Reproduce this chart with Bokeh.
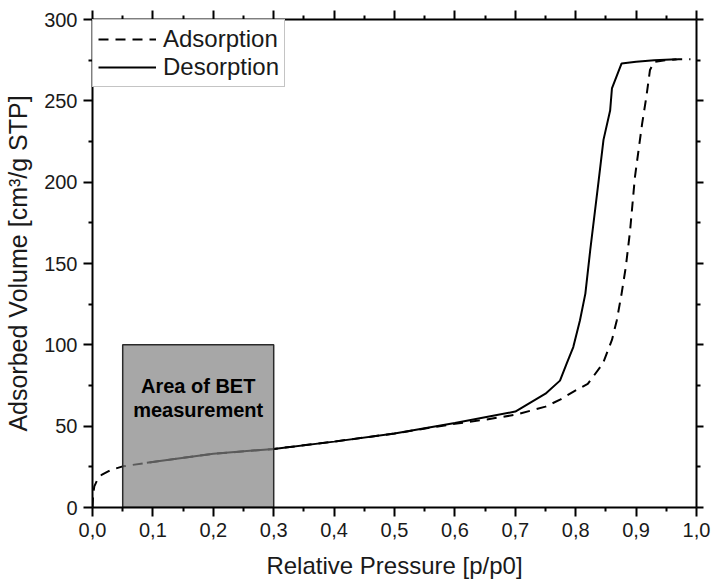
from bokeh.plotting import figure
from bokeh.models import LinearAxis, FixedTicker, CustomJSTickFormatter, Legend, LegendItem
from bokeh.core.properties import value
from bokeh.embed import file_html
from bokeh.resources import INLINE

# ---- data ----
ads_p = [0.0, 0.001, 0.003, 0.008, 0.015, 0.03, 0.05, 0.1, 0.2, 0.3, 0.4, 0.5, 0.6, 0.65,
         0.7, 0.75, 0.775, 0.8, 0.82, 0.845, 0.86, 0.868, 0.876, 0.883, 0.89, 0.898, 0.91,
         0.917, 0.923, 0.93, 0.95, 0.97, 0.99]
ads_v = [0, 8, 13, 17, 20, 23, 25.3, 28, 33, 36, 40.5, 45.5, 51.5, 54,
         57, 62, 66.5, 72, 76, 88.5, 103, 115, 131.5, 148, 170, 203, 236,
         252.5, 269, 274, 275, 275.5, 275.5]

des_p = [0.967, 0.93, 0.9, 0.876, 0.86, 0.857, 0.846, 0.838, 0.824, 0.816, 0.807, 0.796,
         0.785, 0.774, 0.75, 0.7, 0.65, 0.6, 0.5, 0.4, 0.3, 0.2, 0.09]
des_v = [275.5, 275, 274, 273, 257.6, 244, 226, 201, 158, 131.5, 115, 98.6,
         88.5, 78, 70, 59, 55.5, 52, 45.5, 40.5, 36, 33, 27.5]

bet_range = [0.05, 0.3]
bet_top = 100
bet_lines = ["Area of BET", "measurement"]

x_ticks = [0.0, 0.1, 0.2, 0.3, 0.4, 0.5, 0.6, 0.7, 0.8, 0.9, 1.0]
x_minor = [0.05, 0.15, 0.25, 0.35, 0.45, 0.55, 0.65, 0.75, 0.85, 0.95]
y_ticks = [0, 50, 100, 150, 200, 250, 300]
y_minor = [25, 75, 125, 175, 225, 275]

FONT = "Liberation Sans"
TXT = "#1a1a1a"

p = figure(width=712, height=585, x_range=(0, 1.0), y_range=(0, 300),
           output_backend="svg", toolbar_location=None,
           min_border_left=92, min_border_top=19, min_border_right=16, min_border_bottom=78)
p.xgrid.visible = False
p.ygrid.visible = False
p.outline_line_color = None
p.background_fill_color = "white"

ads = p.line(ads_p, ads_v, line_color="black", line_width=2, line_dash="10 7")
des = p.line(des_p, des_v, line_color="black", line_width=2)

p.quad(left=[bet_range[0]], right=[bet_range[1]], bottom=[0], top=[bet_top],
       fill_color="#818181", fill_alpha=0.7, line_color="#2a2a2a", line_width=1.5)

cx = (bet_range[0] + bet_range[1]) / 2
p.text(x=[cx, cx], y=[74.5, 59.7], text=bet_lines, text_font=value(FONT),
       text_font_style="bold", text_font_size=value("20px"), text_color="black",
       text_align="center", text_baseline="middle")

xt = FixedTicker(ticks=x_ticks, minor_ticks=x_minor)
yt = FixedTicker(ticks=y_ticks, minor_ticks=y_minor)
xt2 = FixedTicker(ticks=x_ticks, minor_ticks=x_minor)
yt2 = FixedTicker(ticks=y_ticks, minor_ticks=y_minor)
fmt = CustomJSTickFormatter(code="return tick.toFixed(1).replace('.', ',');")
blank = CustomJSTickFormatter(code="return '';")

def style(ax, labels=True, tick_out=9):
    ax.axis_line_width = 2
    ax.axis_line_color = "black"
    ax.major_tick_line_width = 2
    ax.minor_tick_line_width = 2
    ax.major_tick_line_color = "black"
    ax.minor_tick_line_color = "black"
    ax.major_tick_out = tick_out
    ax.major_tick_in = 0
    ax.minor_tick_out = 4
    ax.minor_tick_in = 0
    if labels:
        ax.major_label_text_font = FONT
        ax.major_label_text_font_size = "20px"
        ax.major_label_text_color = TXT
        ax.axis_label_text_font = FONT
        ax.axis_label_text_font_size = "24px"
        ax.axis_label_text_font_style = "normal"
        ax.axis_label_text_color = TXT
    else:
        ax.formatter = blank
        ax.major_label_text_font_size = "6px"
        ax.major_label_standoff = 0

xa = p.xaxis[0]
xa.ticker = xt
xa.formatter = fmt
style(xa)
xa.major_label_standoff = 6
xa.axis_label = "Relative Pressure [p/p0]"
xa.axis_label_standoff = 12

ya = p.yaxis[0]
ya.ticker = yt
style(ya)
ya.major_label_standoff = 6
ya.axis_label = "Adsorbed Volume [cm³/g STP]"
ya.axis_label_text_font_size = "25px"
ya.axis_label_standoff = 9

top = LinearAxis(ticker=xt2)
style(top, labels=False, tick_out=9)
p.add_layout(top, "above")
right = LinearAxis(ticker=yt2)
style(right, labels=False, tick_out=7)
p.add_layout(right, "right")

legend = Legend(items=[LegendItem(label="Adsorption", renderers=[ads]),
                       LegendItem(label="Desorption", renderers=[des])],
                location="top_left", margin=0, padding=5, spacing=0,
                glyph_width=58, glyph_height=28, label_height=28, label_standoff=7,
                label_text_font=FONT, label_text_font_size="24px", label_text_color=TXT,
                border_line_color="#8a8a8a", border_line_width=1,
                background_fill_color="white", background_fill_alpha=1)
p.add_layout(legend)

open("out.html", "w").write(file_html(p, INLINE))
